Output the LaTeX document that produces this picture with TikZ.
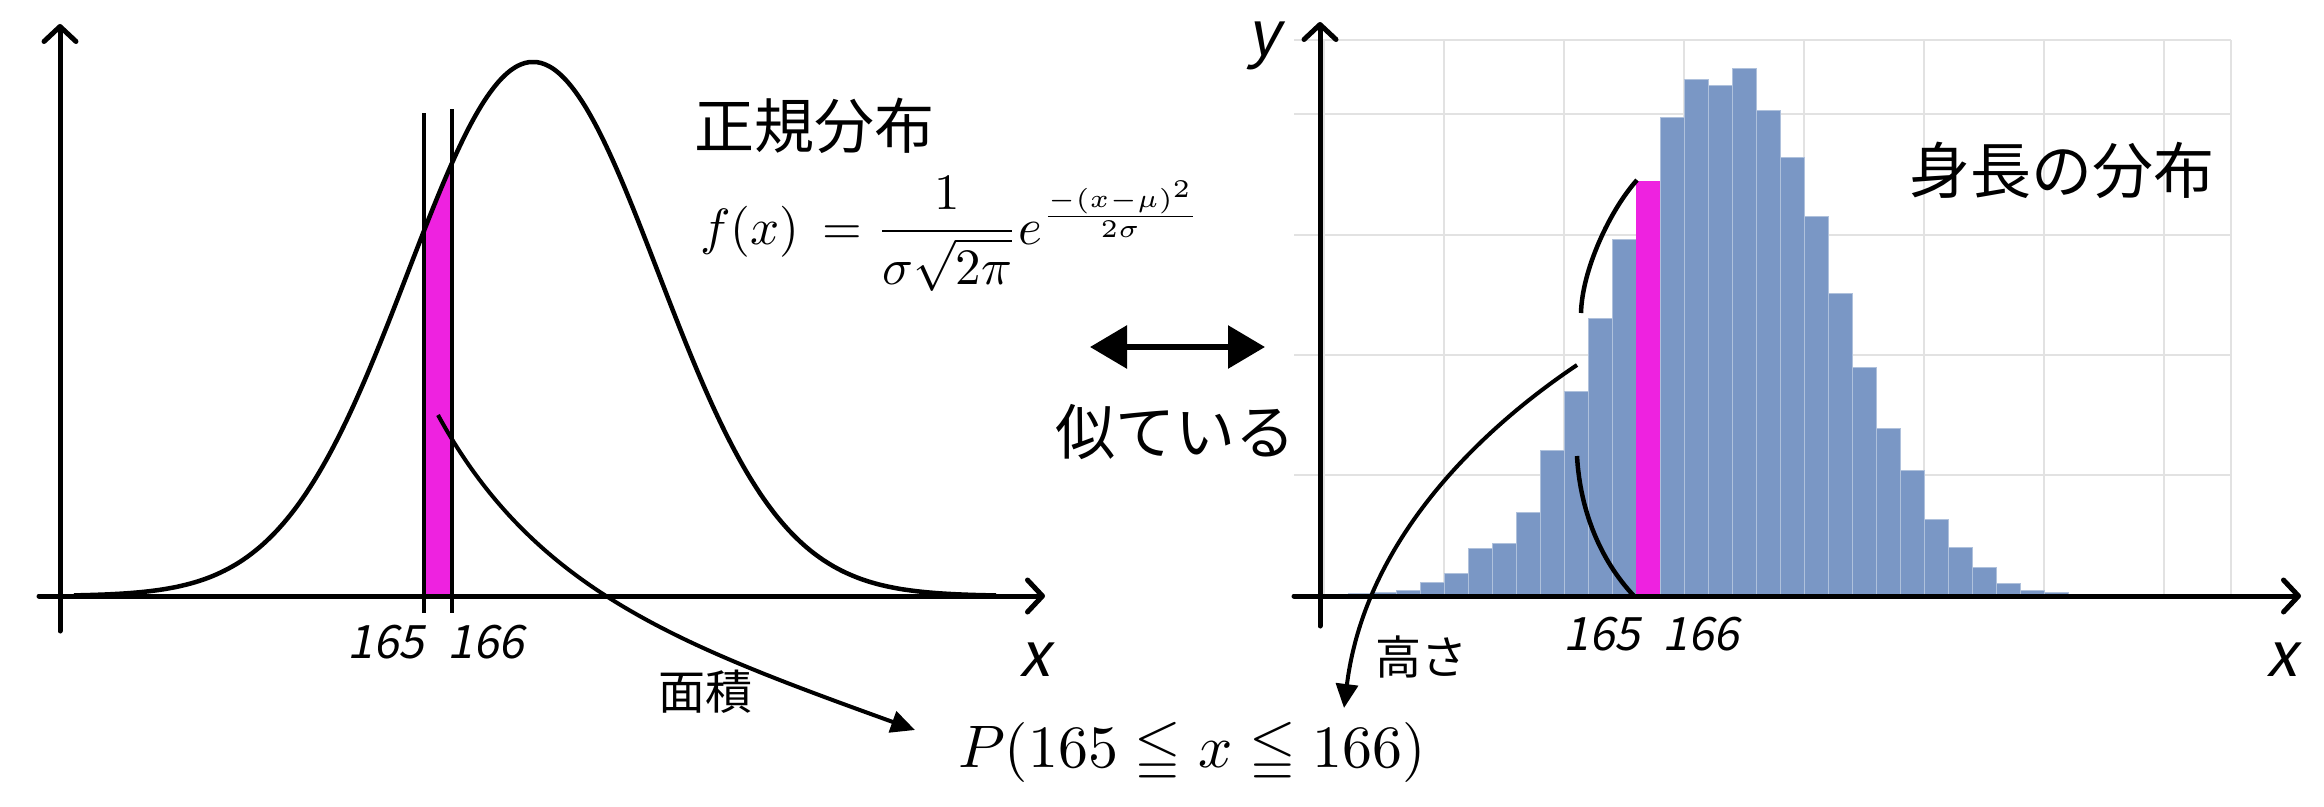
\documentclass[tikz,border=0pt]{standalone}
\usepackage{amsmath,amssymb}
\usepackage{graphicx}
\usepackage{fontspec}
\newfontfamily\jpfont{Noto Sans CJK JP}
\newfontfamily\slantfont[FakeSlant=0.2]{Noto Sans CJK JP}
\usetikzlibrary{arrows.meta}
\definecolor{barblue}{HTML}{7A97C5}
\definecolor{magbar}{HTML}{EE22E0}
\definecolor{gridgray}{HTML}{E2E2E2}
\tikzset{
  axisline/.style={line width=5pt, line cap=round, -{Straight Barb[length=15pt,width=32pt,round]}},
  curveline/.style={line width=4.5pt},
  boundline/.style={line width=4pt},
  pointer/.style={line width=4pt, -{Triangle[length=24pt,width=22pt]}},
  jplabel/.style={font=\jpfont\fontsize{60}{72}\selectfont, inner sep=0pt},
  jpsmall/.style={font=\jpfont\fontsize{46}{56}\selectfont, inner sep=0pt},
  ticklabel/.style={font=\slantfont\fontsize{46}{56}\selectfont, inner sep=0pt},
  axislabel/.style={font=\slantfont\fontsize{62}{72}\selectfont, inner sep=0pt},
  gridline/.style={draw=gridgray, line width=1.5pt},
  histbar/.style={fill=barblue, draw=white!40!barblue, line width=1pt}
}
\begin{document}
\begin{tikzpicture}[x=1pt,y=-1pt]
\useasboundingbox (0,0) rectangle (2324,806);
% ---------- left: normal curve ----------
\fill[magbar] (424,596) -- plot[domain=424:452,samples=30] (\x,{596-534*exp(-((\x-533)/125)^2/2)}) -- (452,596) -- cycle;
\draw[curveline] plot[domain=74:996,samples=240,smooth] (\x,{596-534*exp(-((\x-533)/125)^2/2)});
\draw[axisline] (39,596) -- (1045,596);
\draw[axisline] (60,631) -- (60,24);
\draw[boundline] (424,113) -- (424,613);
\draw[boundline] (452,109) -- (452,613);
\node[ticklabel] (l165) at (386,642) {165};
\node[ticklabel] (l166) at (486,642) {166};
\node[axislabel] (lx) at (1035,660) {x};
\node[jplabel] (seiki) at (814,126) {正規分布};
\node[inner sep=0pt, anchor=base west] (fx) at (700,244)
  {\scalebox{5.1}{$f(x)\,=\dfrac{1}{\sigma\sqrt{2\pi}}e^{\frac{-(x-\mu)^2}{2\sigma}}$}};
\node[font=\jpfont\fontsize{47}{56}\selectfont, inner sep=0pt] (menseki) at (705,692) {面積};
% ---------- middle ----------
\coordinate (simL) at (1090,347);
\coordinate (simR) at (1265,347);
\draw[line width=6pt, {Triangle[length=37pt,width=42pt]}-{Triangle[length=37pt,width=42pt]}] (simL) -- (simR);
\node[jplabel] (niteiru) at (1175,432) {似ている};
\node[inner sep=0pt] (prob) at (1192,752) {\scalebox{6}{$P(165\leqq x\leqq 166)$}};
% ---------- right: histogram ----------
\foreach \yy in {40,114,235,355,475} \draw[gridline] (1294,\yy) -- (2231,\yy);
\foreach \xx in {1324,1444,1564,1684,1804,1924,2044,2164,2231} \draw[gridline] (\xx,40) -- (\xx,596);
\foreach \i/\h in {0/3,1/4,2/6,3/14,4/23,5/48,6/53,7/84,8/146,9/205,10/278,11/357,13/479,14/517,15/511,16/528,17/486,18/439,19/380,20/303,21/229,22/168,23/126,24/77,25/49,26/29,27/13,28/6,29/4}
  \filldraw[histbar] ({1348+24*\i},596) rectangle ({1372+24*\i},{596-\h});
\fill[magbar] (1636,596) rectangle (1660,181);
\draw[axisline] (1294,596) -- (2301,596);
\draw[axisline] (1320,626) -- (1320,22);
\node[axislabel] (ry) at (1264,46) {y};
\node[axislabel] (rx) at (2282,660) {x};
\node[ticklabel] (r165) at (1602,634) {165};
\node[ticklabel] (r166) at (1701,634) {166};
\node[jplabel, font=\jpfont\fontsize{61}{72}\selectfont] (shincho) at (2062,170) {身長の分布};
\node[jpsmall] (takasa) at (1421,657) {高さ};
% bracket arcs
\coordinate (arcTop) at (1637,180);
\coordinate (arcA) at (1581,313);
\coordinate (arcB) at (1577,456);
\coordinate (arcBot) at (1634,596);
\draw[curveline] (arcTop) .. controls (1610,210) and (1582,270) .. (arcA);
\draw[curveline] (arcB) .. controls (1580,510) and (1600,560) .. (arcBot);
% pointers
\coordinate (srcL) at (438,415);
\coordinate (tipL) at (915,730);
\coordinate (srcR) at (1577,365);
\coordinate (tipR) at (1344,708);
\draw[pointer] (srcL) .. controls (534,591) and (680,645) .. (tipL);
\draw[pointer] (srcR) .. controls (1480,430) and (1365,540) .. (tipR);
\end{tikzpicture}
\end{document}
